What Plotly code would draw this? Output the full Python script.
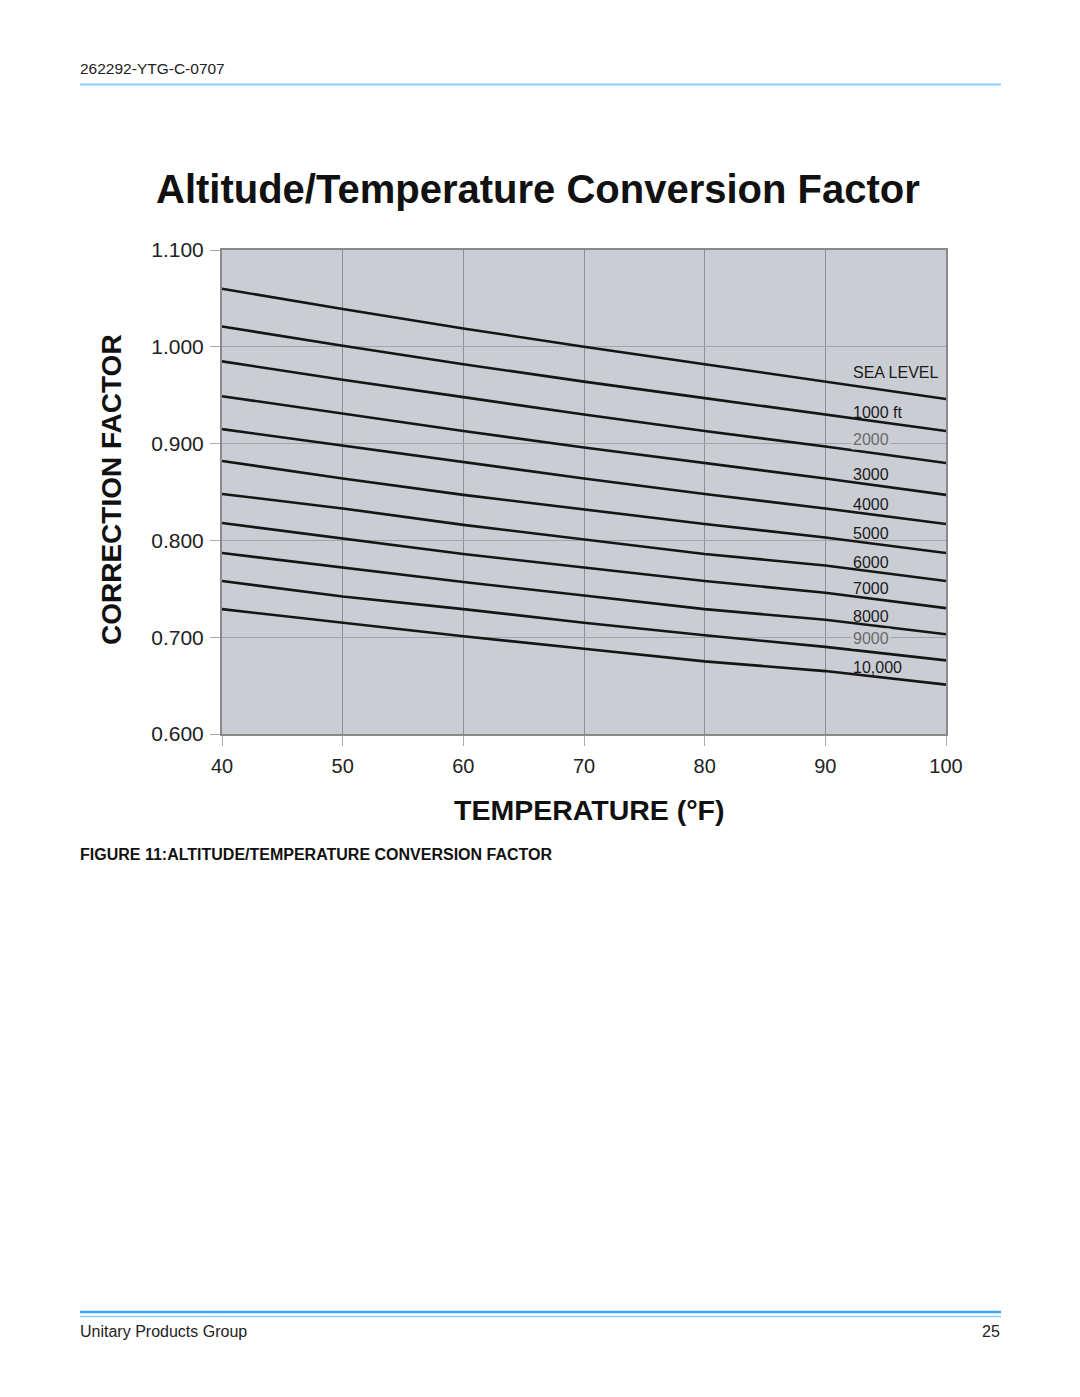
import plotly.graph_objects as go

temps = [40, 50, 60, 70, 80, 90, 100]
series_names = ["SEA LEVEL", "1000 ft", "2000", "3000", "4000", "5000",
                "6000", "7000", "8000", "9000", "10,000"]
sea_level = [1.060, 1.039, 1.019, 1.000, 0.982, 0.964, 0.946]
alt_1000 = [1.021, 1.001, 0.982, 0.964, 0.947, 0.930, 0.913]
alt_2000 = [0.985, 0.966, 0.948, 0.930, 0.913, 0.897, 0.880]
alt_3000 = [0.949, 0.931, 0.913, 0.896, 0.880, 0.864, 0.847]
alt_4000 = [0.915, 0.898, 0.881, 0.864, 0.848, 0.833, 0.817]
alt_5000 = [0.882, 0.864, 0.847, 0.832, 0.817, 0.803, 0.787]
alt_6000 = [0.848, 0.833, 0.816, 0.801, 0.786, 0.774, 0.758]
alt_7000 = [0.818, 0.802, 0.786, 0.772, 0.758, 0.746, 0.730]
alt_8000 = [0.787, 0.772, 0.757, 0.743, 0.729, 0.718, 0.703]
alt_9000 = [0.758, 0.742, 0.729, 0.715, 0.702, 0.690, 0.676]
alt_10000 = [0.729, 0.715, 0.701, 0.688, 0.675, 0.665, 0.651]
all_series = [sea_level, alt_1000, alt_2000, alt_3000, alt_4000, alt_5000,
              alt_6000, alt_7000, alt_8000, alt_9000, alt_10000]

# label placement (data space) and colours
label_x = 92.1
label_y = [0.973, 0.9325, 0.9045, 0.868, 0.837, 0.807, 0.777, 0.750, 0.7215, 0.699, 0.669]
label_gray = ["2000", "9000"]

y_ticks = [0.6, 0.7, 0.8, 0.9, 1.0, 1.1]
y_tick_text = ["0.600", "0.700", "0.800", "0.900", "1.000", "1.100"]
x_ticks = [40, 50, 60, 70, 80, 90, 100]

OFF = 8  # page body margin
W, H = 1080 - 2 * OFF, 1397 - 2 * OFF
L, R, T, B = 222 - OFF, 946 - OFF, 250 - OFF, 734 - OFF
PLOT_BG = "#cbcdd4"
FONT = "Liberation Sans, Arial, sans-serif"

fig = go.Figure()
for name, vals in zip(series_names, all_series):
    fig.add_trace(go.Scatter(x=temps, y=vals, mode="lines", name=name,
                             line=dict(color="#151515", width=2.6),
                             showlegend=False, hoverinfo="x+y+name"))

def px_x(p):
    return (p - OFF - L) / (R - L)

def px_y(p):
    return (B - (p - OFF)) / (B - T)

ann = []
for name, ly in zip(series_names, label_y):
    gray = name in label_gray
    ann.append(dict(x=label_x, y=ly, xref="x", yref="y", text=name, showarrow=False,
                    xanchor="left", yanchor="middle",
                    font=dict(family=FONT, size=16, color="#6a6a6a" if gray else "#1a1a1a"),
                    bgcolor=PLOT_BG if gray else None, borderpad=1))

ann += [
    dict(x=px_x(78), y=px_y(69), xref="paper", yref="paper", text="262292-YTG-C-0707",
         showarrow=False, xanchor="left", yanchor="middle",
         font=dict(family=FONT, size=15.5, color="#222")),
    dict(x=px_x(538), y=px_y(189), xref="paper", yref="paper",
         text="<b>Altitude/Temperature Conversion Factor</b>",
         showarrow=False, xanchor="center", yanchor="middle",
         font=dict(family=FONT, size=40, color="#111")),
    dict(x=px_x(111), y=px_y(490), xref="paper", yref="paper",
         text="<b>CORRECTION FACTOR</b>", textangle=-90,
         showarrow=False, xanchor="center", yanchor="middle",
         font=dict(family=FONT, size=28, color="#111")),
    dict(x=px_x(589), y=px_y(810), xref="paper", yref="paper",
         text="<b>TEMPERATURE (°F)</b>",
         showarrow=False, xanchor="center", yanchor="middle",
         font=dict(family=FONT, size=28.5, color="#111")),
    dict(x=px_x(78), y=px_y(854), xref="paper", yref="paper",
         text="<b>FIGURE 11:ALTITUDE/TEMPERATURE CONVERSION FACTOR</b>",
         showarrow=False, xanchor="left", yanchor="middle",
         font=dict(family=FONT, size=16, color="#111")),
    dict(x=px_x(78), y=px_y(1331), xref="paper", yref="paper",
         text="Unitary Products Group",
         showarrow=False, xanchor="left", yanchor="middle",
         font=dict(family=FONT, size=16, color="#222")),
    dict(x=px_x(1002), y=px_y(1331), xref="paper", yref="paper",
         text="25",
         showarrow=False, xanchor="right", yanchor="middle",
         font=dict(family=FONT, size=16, color="#222")),
]

shapes = [
    dict(type="line", xref="paper", yref="paper", x0=px_x(80), x1=px_x(1001),
         y0=px_y(84.5), y1=px_y(84.5), line=dict(color="#8ccaff", width=2)),
    dict(type="line", xref="paper", yref="paper", x0=px_x(80), x1=px_x(1001),
         y0=px_y(1312), y1=px_y(1312), line=dict(color="#3aa4f5", width=2.5)),
    dict(type="line", xref="paper", yref="paper", x0=px_x(80), x1=px_x(1001),
         y0=px_y(1316.5), y1=px_y(1316.5), line=dict(color="#8ccaff", width=1.5)),
]

fig.update_layout(
    width=W, height=H,
    margin=dict(l=L, r=W - R, t=T, b=H - B, pad=0),
    paper_bgcolor="white", plot_bgcolor=PLOT_BG,
    annotations=ann, shapes=shapes,
    font=dict(family=FONT, color="#222"),
)
fig.update_xaxes(range=[40, 100], tickvals=x_ticks, showgrid=True,
                 gridcolor="#8e9098", gridwidth=1,
                 showline=True, mirror=True, linecolor="#8a8a8a", linewidth=2,
                 ticks="outside", ticklen=10, tickcolor="#aaaaaa",
                 tickfont=dict(family=FONT, size=20, color="#222"),
                 ticklabelstandoff=3, zeroline=False)
fig.update_yaxes(range=[0.6, 1.1], tickvals=y_ticks, ticktext=y_tick_text,
                 showgrid=True, gridcolor="#a3a5ad", gridwidth=1,
                 showline=True, mirror=True, linecolor="#8a8a8a", linewidth=2,
                 ticks="outside", ticklen=10, tickcolor="#aaaaaa",
                 tickfont=dict(family=FONT, size=21, color="#222"),
                 ticklabelstandoff=2, zeroline=False)

fig.write_html("out.html")
